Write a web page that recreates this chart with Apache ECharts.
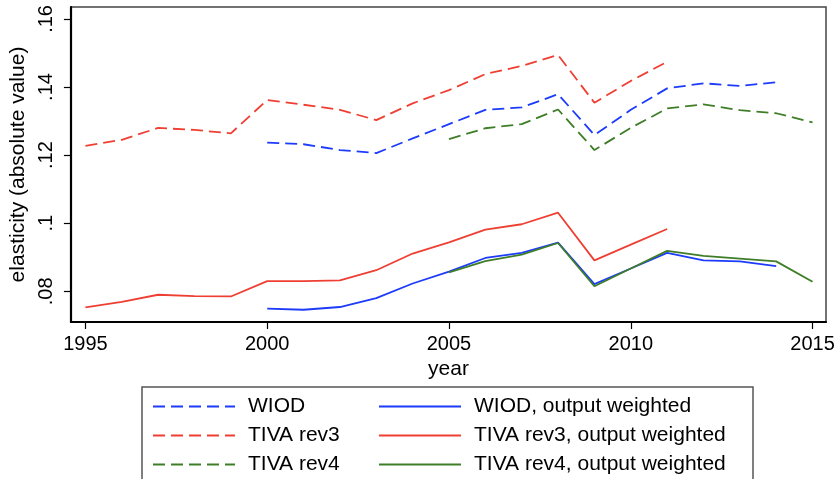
<!DOCTYPE html>
<html><head><meta charset="utf-8">
<script src="https://cdn.jsdelivr.net/npm/echarts@6/dist/echarts.min.js"></script>
<style>html,body{margin:0;padding:0;background:#fff}#c{width:838px;height:479px}</style>
</head><body><div id="c"></div>
<script>
const years = [1995,1996,1997,1998,1999,2000,2001,2002,2003,2004,2005,2006,2007,2008,2009,2010,2011,2012,2013,2014,2015];
const xTicks = [1995,2000,2005,2010,2015];
const yTicks = [0.08,0.10,0.12,0.14,0.16];
const names = ['WIOD','TIVA rev3','TIVA rev4','WIOD, output weighted','TIVA rev3, output weighted','TIVA rev4, output weighted'];
const wiodDash = [null,null,null,null,null,.1237,.1232,.1215,.1206,.1249,.1291,.1333,.1340,.1379,.1259,.1333,.1396,.1411,.1403,.1414,null];
const rev3Dash = [.1227,.1245,.1280,.1274,.1264,.1362,.1348,.1333,.1303,.1352,.1391,.1438,.1462,.1494,.1354,.1418,.1474,null,null,null,null];
const rev4Dash = [null,null,null,null,null,null,null,null,null,null,.1247,.1279,.1291,.1334,.1215,.1280,.1337,.1349,.1332,.1323,.1296];
const wiodSolid = [null,null,null,null,null,.0749,.0746,.0754,.0780,.0823,.0858,.0898,.0913,.0943,.0821,.0867,.0913,.0891,.0888,.0874,null];
const rev3Solid = [.0753,.0769,.0790,.0786,.0785,.0830,.0830,.0832,.0862,.0911,.0944,.0981,.0997,.1031,.0891,.0937,.0983,null,null,null,null];
const rev4Solid = [null,null,null,null,null,null,null,null,null,null,.0856,.0889,.0908,.0942,.0815,.0867,.0919,.0904,.0896,.0888,.0828];

const BLUE='#1c3bfa', RED='#ef3f33', GREEN='#3f7e28';
const FONT='"Liberation Sans", Arial, Helvetica, sans-serif';
function pts(arr){return years.map((y,i)=>[y,arr[i]]).filter(p=>p[1]!==null);}
function mk(name, arr, color, dashed){
  return {name:name,type:'line',data:pts(arr),symbol:'none',silent:true,animation:false,z:dashed?3:4,
    lineStyle:{color:color,width:1.8,type:dashed?[12,6]:'solid'},itemStyle:{color:color}};
}
const series=[
  mk(names[0],wiodDash,BLUE,true),
  mk(names[1],rev3Dash,RED,true),
  mk(names[2],rev4Dash,GREEN,true),
  mk(names[3],wiodSolid,BLUE,false),
  mk(names[4],rev3Solid,RED,false),
  mk(names[5],rev4Solid,GREEN,false)
];
const legendCommon={orient:'vertical',top:396,height:90,padding:0,itemWidth:82,itemHeight:14,itemGap:8,
  textStyle:{fontFamily:FONT,fontSize:21,color:'#000',lineHeight:21,padding:[0,0,0,8]},
  itemStyle:{opacity:0},lineStyle:{width:2},selectedMode:false};
const chart=echarts.init(document.getElementById('c'),null,{renderer:'canvas'});
chart.setOption({
  animation:false,
  backgroundColor:'#fff',
  grid:{left:70,top:7,right:12,bottom:157,show:true,borderColor:'#444',borderWidth:1.5,containLabel:false},
  xAxis:{type:'value',min:1994.6,max:2015.37,name:'year',nameLocation:'middle',nameGap:36,
    nameTextStyle:{fontFamily:FONT,fontSize:21,color:'#000'},
    axisLine:{show:true,lineStyle:{color:'#000',width:2.2}},
    axisTick:{show:true,length:7,customValues:xTicks,lineStyle:{color:'#000',width:1.2}},
    axisLabel:{customValues:xTicks,fontFamily:FONT,fontSize:20,color:'#000',margin:12,formatter:v=>String(v)},
    splitLine:{show:false}},
  yAxis:{type:'value',min:0.071,max:0.1635,name:'elasticity (absolute value)',nameLocation:'middle',nameGap:35,
    nameTextStyle:{fontFamily:FONT,fontSize:21,color:'#000'},
    axisLine:{show:true,lineStyle:{color:'#000',width:2.2}},
    axisTick:{show:true,length:7,customValues:yTicks,lineStyle:{color:'#000',width:1.2}},
    axisLabel:{customValues:yTicks,rotate:90,fontFamily:FONT,fontSize:20,color:'#000',margin:14,
      formatter:v=>String(+(+v).toFixed(2)).replace(/^0/,'')},
    splitLine:{show:false}},
  legend:[
    Object.assign({},legendCommon,{left:152,data:names.slice(0,3)}),
    Object.assign({},legendCommon,{left:378,data:names.slice(3,6)})
  ],
  graphic:[{type:'rect',shape:{x:142,y:387,width:611,height:120},style:{fill:'none',stroke:'#555',lineWidth:1.5},silent:true}],
  series:series
});
</script></body></html>
